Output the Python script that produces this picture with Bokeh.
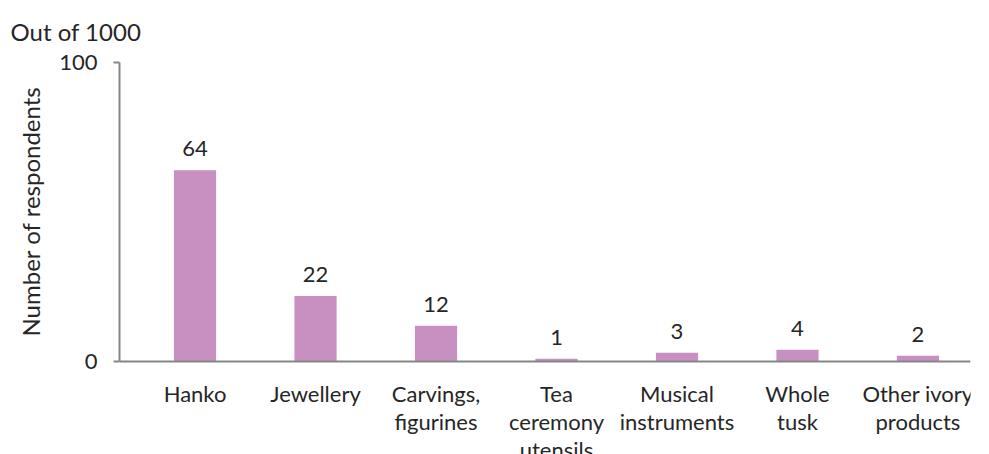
from bokeh.plotting import figure
from bokeh.models import ColumnDataSource, FixedTicker, Range1d, Title
from bokeh.core.properties import value
from bokeh.embed import file_html
from bokeh.resources import INLINE

categories = ["Hanko", "Jewellery", "Carvings,\nfigurines", "Tea\nceremony\nutensils",
              "Musical\ninstruments", "Whole\ntusk", "Other ivory\nproducts"]
counts = [64, 22, 12, 1, 3, 4, 2]
y_ticks = [0, 100]

FONT = "Lato"
TXT = "#262626"
BAR = "#C88FC1"
AX = "#868686"

xs = list(range(len(categories)))
src = ColumnDataSource(dict(x=xs, y=counts, lbl=[str(v) for v in counts],
                            cat=categories, zero=[0] * len(categories)))

p = figure(width=989, height=454, output_backend="svg", toolbar_location=None,
           x_range=Range1d(-0.627, len(categories) - 1 + 0.436), y_range=Range1d(-31, 100),
           min_border_left=119, min_border_right=19, min_border_top=62, min_border_bottom=0)

p.vbar(x="x", top="y", width=0.35, source=src, fill_color=BAR, line_color=None)
p.text(x="x", y="y", text="lbl", source=src, text_align="center", text_baseline="bottom",
       y_offset=-14, text_font=value(FONT), text_font_size="22px", text_color=TXT)
p.text(x="x", y="zero", text="cat", source=src, text_align="center", text_baseline="top",
       y_offset=18, text_font=value(FONT), text_font_size="22px", text_color=TXT,
       text_line_height=1.05)

p.outline_line_color = None
p.grid.visible = False

p.xaxis.fixed_location = 0
p.xaxis.ticker = FixedTicker(ticks=xs)
p.xaxis.major_label_text_font_size = "0px"
p.xaxis.major_label_standoff = 0
p.xaxis.major_tick_line_color = None
p.xaxis.major_tick_in = 0
p.xaxis.major_tick_out = 0
p.xaxis.minor_tick_line_color = None
p.xaxis.axis_line_color = AX
p.xaxis.axis_line_width = 2

p.yaxis.bounds = (0, 100)
p.yaxis.ticker = FixedTicker(ticks=y_ticks)
p.yaxis.minor_tick_line_color = None
p.yaxis.major_tick_in = 0
p.yaxis.major_tick_out = 6
p.yaxis.major_tick_line_color = AX
p.yaxis.major_tick_line_width = 2
p.yaxis.axis_line_color = AX
p.yaxis.axis_line_width = 2
p.yaxis.major_label_standoff = 16
p.yaxis.major_label_text_font = FONT
p.yaxis.major_label_text_font_size = "22px"
p.yaxis.major_label_text_color = TXT

p.add_layout(Title(text="Number of respondents", align="left", offset=118, text_font=FONT,
                   text_font_size="24px", text_font_style="normal", text_color=TXT,
                   standoff=24), "left")

p.add_layout(Title(text="Out of 1000", align="left", offset=-109, text_font=FONT,
                   text_font_size="24px", text_font_style="normal", text_color=TXT,
                   vertical_align="top", standoff=30), "above")

open("out.html", "w").write(file_html(p, INLINE))
